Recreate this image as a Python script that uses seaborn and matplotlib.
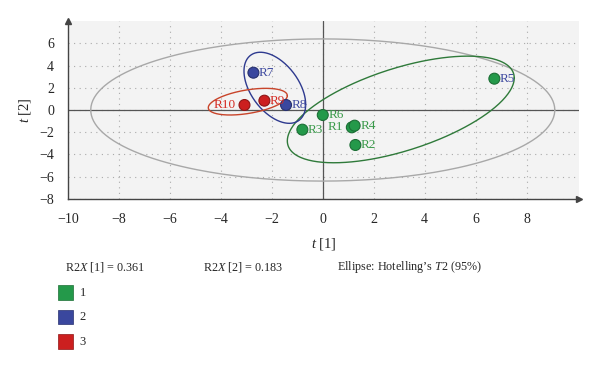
import numpy as np
import pandas as pd
import matplotlib
matplotlib.use("Agg")
import matplotlib.pyplot as plt
import seaborn as sns
from matplotlib.patches import Rectangle

# scores
names = ["R1", "R2", "R3", "R4", "R5", "R6", "R7", "R8", "R9", "R10"]
t1 = [1.14, 1.28, -0.80, 1.25, 6.73, 0.00, -2.72, -1.44, -2.29, -3.07]
t2 = [-1.56, -3.15, -1.77, -1.41, 2.82, -0.45, 3.36, 0.45, 0.84, 0.45]
group = ["1", "1", "1", "1", "1", "1", "2", "2", "3", "3"]
label_group = ["1", "1", "1", "1", "2", "1", "2", "2", "3", "3"]

# group ellipses: centre x, centre y, half width, half height, correlation
groups = ["1", "2", "3"]
ell_cx = [3.06, -1.88, -2.94]
ell_cy = [0.05, 2.00, 0.75]
ell_hx = [4.45, 1.21, 1.55]
ell_hy = [4.80, 3.20, 1.20]
ell_r = [0.59, -0.47, 0.45]

# Hotelling T2 ellipse half axes
hot_a, hot_b = 9.1, 6.4

r2x = [0.361, 0.183]

dot_col = {"1": "#24994a", "2": "#3a479e", "3": "#cc1f1f"}
edge_col = {"1": "#1c6e35", "2": "#27306e", "3": "#8e1515"}
ell_col = {"1": "#2f7a3a", "2": "#2e3a8f", "3": "#c8442a"}
txt_col = {"1": "#3a9a4a", "2": "#3f4aa0", "3": "#d42a22"}

df = pd.DataFrame({"name": names, "t1": t1, "t2": t2, "group": group})

sns.set_style("white")
plt.rcParams["font.family"] = ["Liberation Serif", "DejaVu Serif"]
plt.rcParams["mathtext.fontset"] = "custom"
plt.rcParams["mathtext.it"] = "Liberation Serif:italic"
plt.rcParams["mathtext.rm"] = "Liberation Serif"

fig = plt.figure(figsize=(6, 3.71), dpi=100)
ax = fig.add_axes([0.113, 0.464, 0.852, 0.479])
ax.set_facecolor("#f3f3f3")

ax.set_xlim(-10, 10.05)
ax.set_ylim(-8, 8)
ax.set_xticks(np.arange(-10, 9, 2))
ax.set_yticks(np.arange(-8, 7, 2))
ax.set_xticks(np.arange(-9, 10, 2), minor=True)
ax.set_yticks(np.arange(-7, 8, 2), minor=True)
ax.set_xticklabels([str(v).replace("-", "\u2212") for v in range(-10, 9, 2)])
ax.set_yticklabels([str(v).replace("-", "\u2212") for v in range(-8, 7, 2)])
ax.tick_params(axis="both", which="major", labelsize=10, length=4,
               width=0.8, color="#444444", direction="out", pad=6)
ax.tick_params(axis="both", which="minor", length=2.5, width=0.7,
               color="#444444", direction="in")
ax.grid(True, which="major", color="#aaaaaa", linestyle=(0, (1, 4)), linewidth=0.8)

for s in ["top", "right"]:
    ax.spines[s].set_visible(False)
for s in ["left", "bottom"]:
    ax.spines[s].set_color("#444444")
    ax.spines[s].set_linewidth(1.0)
ax.plot(1, 0, ">", transform=ax.transAxes, color="#444444", ms=5, clip_on=False)
ax.plot(0, 1, "^", transform=ax.transAxes, color="#444444", ms=5, clip_on=False)

ax.axhline(0, color="#555555", lw=0.9, zorder=1)
ax.axvline(0, color="#555555", lw=0.9, zorder=1)

tt = np.linspace(0, 2 * np.pi, 300)
ax.plot(hot_a * np.cos(tt), hot_b * np.sin(tt), color="#a8a8a8", lw=1.0, zorder=2)

for g, cx, cy, hx, hy, r in zip(groups, ell_cx, ell_cy, ell_hx, ell_hy, ell_r):
    S = np.array([[hx * hx, r * hx * hy], [r * hx * hy, hy * hy]])
    L = np.linalg.cholesky(S)
    pts = L @ np.vstack([np.cos(tt), np.sin(tt)])
    ax.plot(cx + pts[0], cy + pts[1], color=ell_col[g], lw=1.0, zorder=3)

sns.scatterplot(data=df, x="t1", y="t2", hue="group", palette=dot_col,
                s=62, linewidth=0.8, edgecolor=[edge_col[g] for g in group],
                legend=False, ax=ax, zorder=4)

for n, x, y, lg in zip(names, t1, t2, label_group):
    if n in ("R1", "R10"):
        ax.annotate(n, (x, y), xytext=(-6, 0), textcoords="offset points",
                    ha="right", va="center", fontsize=9.5, color=txt_col[lg], zorder=5)
    else:
        ax.annotate(n, (x, y), xytext=(4, 0), textcoords="offset points",
                    ha="left", va="center", fontsize=9.5, color=txt_col[lg], zorder=5)

ax.set_xlabel("$\\it{t}$ [1]", fontsize=10.5)
ax.set_ylabel("$\\it{t}$ [2]", fontsize=10.5)
ax.xaxis.set_label_coords(0.5, -0.21)
ax.yaxis.set_label_coords(-0.068, 0.5)

fig.text(0.108, 0.28, "R2$\\it{X}$ [1] = %.3f" % r2x[0], fontsize=8.7, va="center")
fig.text(0.338, 0.28, "R2$\\it{X}$ [2] = %.3f" % r2x[1], fontsize=8.7, va="center")
fig.text(0.562, 0.28, "Ellipse: Hotelling\u2019s $\\it{T}$2 (95%)", fontsize=8.7, va="center")

for i, g in enumerate(groups):
    yc = 0.211 - i * 0.066
    fig.patches.append(Rectangle((0.097, yc - 0.019), 0.024, 0.039,
                                 transform=fig.transFigure, facecolor=dot_col[g],
                                 edgecolor=edge_col[g], linewidth=0.5))
    fig.text(0.133, yc, g, fontsize=9, va="center")

fig.savefig("out.png", dpi=100)
